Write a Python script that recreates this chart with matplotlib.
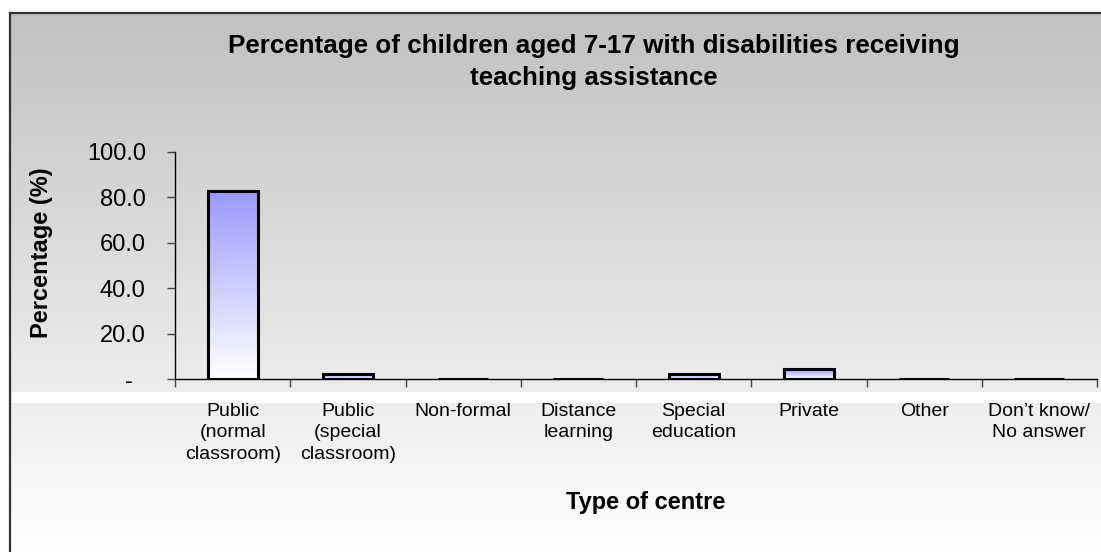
import numpy as np
import matplotlib.pyplot as plt
from matplotlib.colors import LinearSegmentedColormap
from matplotlib.patches import Rectangle

# data
categories = ["Public\n(normal\nclassroom)", "Public\n(special\nclassroom)", "Non-formal",
              "Distance\nlearning", "Special\neducation", "Private", "Other",
              "Don\u2019t know/\nNo answer"]
percentages = [83.0, 2.2, 0.0, 0.0, 2.2, 4.4, 0.0, 0.0]
yticks = [0, 20, 40, 60, 80, 100]
ytick_labels = ["-  ", "20.0", "40.0", "60.0", "80.0", "100.0"]

title = "Percentage of children aged 7-17 with disabilities receiving\nteaching assistance"
xlabel = "Type of centre"
ylabel = "Percentage (%)"

W, H = 1101, 552
plt.rcParams['font.family'] = ['Liberation Sans', 'DejaVu Sans']
fig = plt.figure(figsize=(W / 100, H / 100), dpi=100)

# chart area background: grey fading to white, with a frame on left/top
bg = fig.add_axes([0, 0, 1, 1], zorder=-2)
grad = np.linspace(0, 1, 256).reshape(-1, 1)
bg_cmap = LinearSegmentedColormap.from_list('bg', ['#c1c1c1', '#ffffff'])
bg.imshow(grad, cmap=bg_cmap, extent=[10, W, H, 13], aspect='auto')
bg.add_patch(Rectangle((12, 392), W, 11, facecolor='white', edgecolor='none'))
bg.plot([10, 10], [H, 13], color='#333333', lw=1.6, solid_capstyle='projecting')
bg.plot([10, W], [13, 13], color='#333333', lw=1.6, solid_capstyle='projecting')
bg.set_xlim(0, W)
bg.set_ylim(H, 0)
bg.axis('off')

# plot area
ax = fig.add_axes([175 / W, (H - 379) / H, 922 / W, 227 / H])
ax.patch.set_alpha(0)

x = np.arange(len(categories))
bars = ax.bar(x, percentages, width=0.435, facecolor='none', edgecolor='black',
              linewidth=2.2, zorder=3)

bar_cmap = LinearSegmentedColormap.from_list('bar', ['#9999ff', '#ffffff'])
for b, h in zip(bars, percentages):
    if h <= 0:
        continue
    x0 = b.get_x()
    im = ax.imshow(grad, cmap=bar_cmap, extent=[x0, x0 + b.get_width(), 0, h],
                   aspect='auto', zorder=2)
    im.set_clip_path(b)

ax.set_xlim(-0.5, len(categories) - 0.5)
ax.set_ylim(0, 100)
ax.set_aspect('auto')

for side in ['top', 'right']:
    ax.spines[side].set_visible(False)
for side in ['left', 'bottom']:
    ax.spines[side].set_linewidth(1.0)
    ax.spines[side].set_color('black')

ax.set_yticks(yticks, ytick_labels)
ax.tick_params(axis='y', length=6, width=1, pad=15, labelsize=17, color='#444444')

# category boundaries as major ticks, names as minor tick labels
ax.set_xticks(np.arange(-0.5, len(categories), 1))
ax.set_xticklabels([])
ax.tick_params(axis='x', which='major', length=6, width=1, color='#444444')
ax.set_xticks(x, categories, minor=True)
ax.tick_params(axis='x', which='minor', length=0, pad=17, labelsize=14)
for lab in ax.get_xticklabels(minor=True):
    lab.set_linespacing(1.35)

fig.text(594 / W, 1 - 62 / H, title, ha='center', va='center', fontsize=18.7,
         fontweight='bold', linespacing=1.45)
fig.text(646 / W, 1 - 503 / H, xlabel, ha='center', va='center', fontsize=17,
         fontweight='bold')
fig.text(42 / W, 1 - 253 / H, ylabel, ha='center', va='center', fontsize=17,
         fontweight='bold', rotation=90)

fig.savefig('out.png', dpi=100)
